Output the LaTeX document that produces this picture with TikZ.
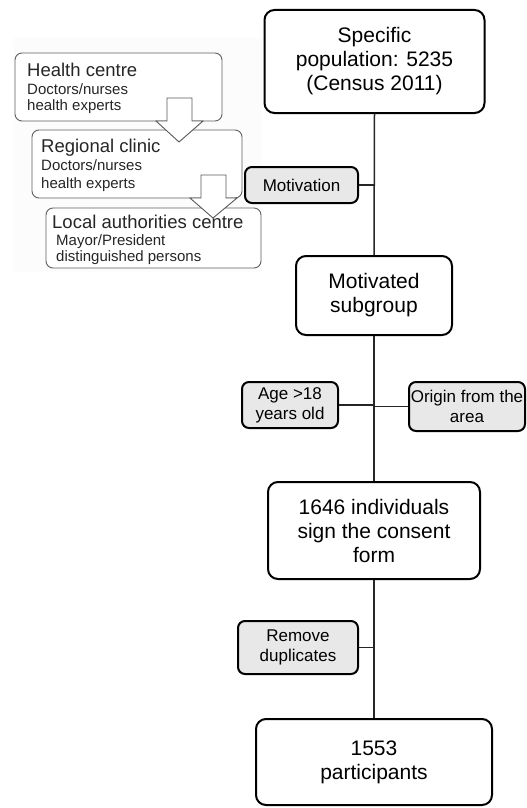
\documentclass[tikz,border=0pt]{standalone}
\usepackage{fontspec}
\setmainfont{Liberation Sans}
\begin{document}
\begin{tikzpicture}[x=1pt,y=-1pt,
  mainbox/.style={draw=black,line width=2pt,rounded corners=10pt,fill=white,align=center,inner sep=0pt,font=\fontsize{21}{24}\selectfont},
  sidebox/.style={draw=black,line width=2pt,rounded corners=7pt,fill=gray!18,align=center,inner sep=0pt,font=\fontsize{17}{20}\selectfont},
  panelbox/.style={draw=gray!75!black,line width=0.9pt,rounded corners=7pt,fill=white,inner sep=0pt},
  paneltitle/.style={anchor=base west,inner sep=0pt,text=black!85,font=\fontsize{18.5}{20}\selectfont},
  paneltext/.style={anchor=base west,inner sep=0pt,text=black!85,font=\fontsize{15}{17}\selectfont},
  blockarrow/.style={draw=gray!70!black,line width=0.9pt,fill=white,line join=miter},
  link/.style={draw=black!85,line width=1.5pt}]
\useasboundingbox (0,0) rectangle (527,808);
\fill[gray!2.5] (14,38) rectangle (262,272);

% left panel
\node[panelbox,minimum width=207pt,minimum height=68pt] (hc) at (118.5,87) {};
\node[paneltitle] (hct) at (27,76) {Health centre};
\node[paneltext] (hc1) at (27,94) {Doctors/nurses};
\node[paneltext] (hc2) at (27,110) {health experts};

\node[panelbox,minimum width=210pt,minimum height=68pt] (rc) at (137,164) {};
\node[paneltitle] (rct) at (41,152) {Regional clinic};
\node[paneltext] (rc1) at (41,170) {Doctors/nurses};
\node[paneltext] (rc2) at (41,188) {health experts};

\node[panelbox,minimum width=215pt,minimum height=60pt] (lc) at (153.5,238) {};
\node[paneltitle] (lct) at (52,228) {Local authorities centre};
\node[paneltext] (lc1) at (56,245) {Mayor/President};
\node[paneltext] (lc2) at (56,261) {distinguished persons};

\draw[blockarrow] (167,98) -- (192,98) -- (192,121) -- (203,121) -- (179,142) -- (156,121) -- (167,121) -- cycle;
\draw[blockarrow] (201,175) -- (226,175) -- (226,198) -- (237,198) -- (213,218) -- (190,198) -- (201,198) -- cycle;

% main flow
\node[mainbox,minimum width=220pt,minimum height=103pt] (spec) at (374.5,61.5) {Specific\\population: 5235\\(Census 2011)};
\node[mainbox,minimum width=156pt,minimum height=79pt] (sub) at (374,295.5) {Motivated\\subgroup};
\node[mainbox,minimum width=212pt,minimum height=97pt] (cons) at (374,530.5) {1646 individuals\\sign the consent\\form};
\node[mainbox,minimum width=236pt,minimum height=86pt] (part) at (374,762) {1553\\participants};

\node[sidebox,minimum width=113pt,minimum height=36pt] (mot) at (301.5,185) {Motivation};
\node[sidebox,minimum width=96pt,minimum height=46pt] (age) at (290,405) {Age {>}18\\years old};
\node[sidebox,minimum width=116pt,minimum height=49pt] (orig) at (467,406.5) {Origin from the\\area};
\node[sidebox,minimum width=120pt,minimum height=53pt] (dup) at (298,647.5) {Remove\\duplicates};

\draw[link] (spec.south) -- (sub.north);
\draw[link] (sub.south) -- (cons.north);
\draw[link] (cons.south) -- (part.north);
\draw[link] (mot.east) -- (mot.east -| spec.south);
\draw[link] (age.east) -- (age.east -| sub.south);
\draw[link] (orig.west) -- (orig.west -| sub.south);
\draw[link] (dup.east) -- (dup.east -| cons.south);
\end{tikzpicture}
\end{document}
